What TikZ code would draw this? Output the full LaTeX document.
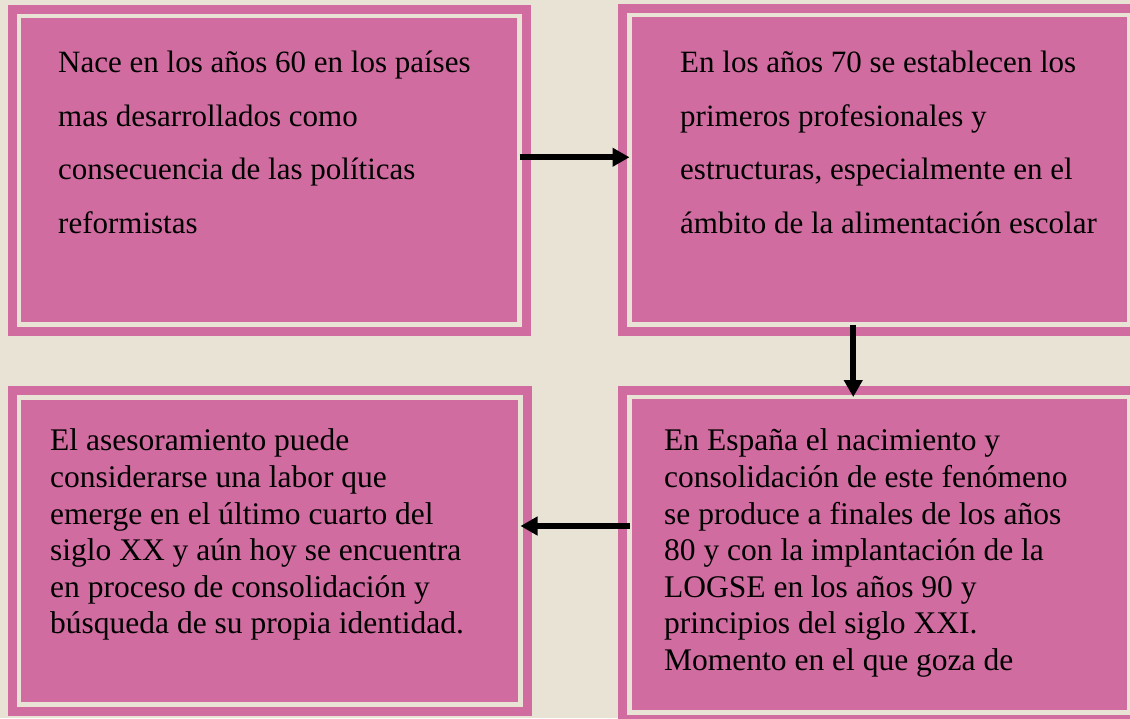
\documentclass[tikz,border=0pt]{standalone}
\usepackage{fontspec}
\setmainfont{Liberation Serif}
\usetikzlibrary{arrows.meta}
\definecolor{colorOne}{HTML}{D06CA0}
\definecolor{colorTwo}{HTML}{E9E3D6}
\tikzset{
  box node/.style={
    draw=colorOne,fill=colorOne,double=colorTwo,double distance=4.5pt,
    line width=9pt,inner sep=0pt,outer sep=0pt,
  },
  text node/.style={
    anchor=north west,inner sep=0pt,align=left,
  },
  flow/.style={
    draw=black,line width=6pt,-{Triangle[length=17pt,width=18pt]},
  },
}
\begin{document}
\begin{tikzpicture}[x=1pt,y=-1pt]
   \useasboundingbox (0,0) rectangle (1130,718);
   \clip (0,0) rectangle (1130,718);
   \fill[colorTwo] (0,0) rectangle (1130,718);

   % BOXES
   \node[box node,minimum width=500.5pt,minimum height=308.5pt] (b0) at (269.25,170.25) {}; % top left
   \node[box node,minimum width=499.5pt,minimum height=309.5pt] (b1) at (879.25,169.75) {}; % top right
   \node[box node,minimum width=499.5pt,minimum height=315.5pt] (b2) at (879.25,554.75) {}; % bottom right
   \node[box node,minimum width=501.5pt,minimum height=307pt] (b3) at (269.75,551) {}; % bottom left

   % TEXTS
   \node[text node,font=\fontsize{31}{53.7}\selectfont] (t0) at (58,50.8)
     {Nace en los años 60 en los países\\mas desarrollados como\\consecuencia de las políticas\\reformistas};
   \node[text node,font=\fontsize{31}{53.7}\selectfont] (t1) at (680,50.8)
     {En los años 70 se establecen los\\primeros profesionales y\\estructuras, especialmente en el\\ámbito de la alimentación escolar};
   \node[text node,font=\fontsize{31.5}{36.6}\selectfont] (t2) at (664,428.8)
     {En España el nacimiento y\\consolidación de este fenómeno\\se produce a finales de los años\\80 y con la implantación de la\\LOGSE en los años 90 y\\principios del siglo XXI.\\Momento en el que goza de};
   \node[text node,font=\fontsize{31.5}{36.6}\selectfont] (t3) at (50,428.8)
     {El asesoramiento puede\\considerarse una labor que\\emerge en el último cuarto del\\siglo XX y aún hoy se encuentra\\en proceso de consolidación y\\búsqueda de su propia identidad.};

   % ARROWS
   \coordinate (a0) at ([yshift=13pt]b0.east);
   \coordinate (a1) at ([yshift=25pt]b3.east);
   \draw[flow] (a0) -- (a0 -| b1.west);
   \draw[flow] ([xshift=-26pt]b1.south) -- ([xshift=-26pt]b2.north);
   \draw[flow] (a1 -| b2.west) -- (a1);

\end{tikzpicture}
\end{document}
